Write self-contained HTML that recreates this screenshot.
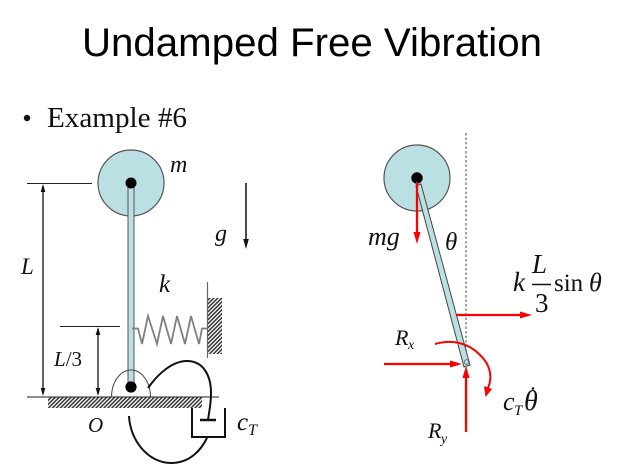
<!DOCTYPE html>
<html><head><meta charset="utf-8"><style>
html,body{margin:0;padding:0;background:#fff;width:624px;height:470px;overflow:hidden}
svg{display:block;filter:blur(0.35px)}
.i{font-family:"Liberation Serif",serif;font-style:italic;fill:#111}
.r{font-family:"Liberation Serif",serif;fill:#111}
</style></head><body>
<svg width="624" height="470" viewBox="0 0 624 470" xmlns="http://www.w3.org/2000/svg">
<defs>
<pattern id="h" width="2.800" height="2.800" patternUnits="userSpaceOnUse" patternTransform="rotate(45)"><rect width="2.800" height="2.800" fill="#fff"/><rect width="1.500" height="2.800" fill="#333"/></pattern>
</defs>
<rect width="624" height="470" fill="#fff"/>
<text x="312" y="56" text-anchor="middle" font-family="Liberation Sans, sans-serif" font-size="39.500" fill="#000" textLength="460" lengthAdjust="spacingAndGlyphs">Undamped Free Vibration</text>
<circle cx="27" cy="118" r="3.200" fill="#111"/>
<text x="47" y="127" class="r" font-size="28.500" textLength="140" lengthAdjust="spacingAndGlyphs">Example #6</text>

<!-- left diagram -->
<circle cx="131" cy="183" r="33" fill="#bbe0e4" stroke="#555" stroke-width="1.200"/>
<rect x="128" y="187" width="6" height="198" fill="#bbe0e4" stroke="#555" stroke-width="1"/>
<circle cx="131" cy="183" r="5.500" fill="#000"/>
<path d="M27 183.500H92M60 326.500H120M27 397H219" stroke="#222" stroke-width="1" fill="none"/>
<path d="M43 186V394M98 329V394" stroke="#111" stroke-width="1.300" fill="none"/>
<path d="M43 184l-2.300 8h4.600zM43 396l-2.300-8h4.600zM98 327l-2.300 8h4.600zM98 396l-2.300-8h4.600z" fill="#111"/>
<rect x="48" y="397.500" width="154" height="10.500" fill="url(#h)"/>
<path d="M111.500 397A19.500 27 0 0 1 150.500 397" fill="none" stroke="#444" stroke-width="1"/>
<circle cx="131" cy="387" r="5.600" fill="#000"/>
<!-- spring + wall -->
<path d="M132 328.500H138L142 344L148 316L157 344L163 316L171 344L177 316L185 344L191 316L199 344L202 328.500H208" fill="none" stroke="#808080" stroke-width="1.800"/>
<path d="M207.500 282V358" stroke="#666" stroke-width="1.200"/>
<rect x="208" y="298" width="14" height="56" fill="url(#h)"/>
<path d="M246 183V240" stroke="#111" stroke-width="1.500"/>
<path d="M246 249l-2.800-10h5.600z" fill="#111"/>
<!-- damper -->
<path d="M192 408V437H225V408" fill="none" stroke="#111" stroke-width="2"/>
<path d="M200 420H216" stroke="#111" stroke-width="2.500"/>
<path d="M148 388C158 374 172 361 187 361C203 361 211 375 211 393C211 405 209 412 208 420" fill="none" stroke="#111" stroke-width="2"/>
<path d="M129 416C130 440 148 463 171 463C190 463 201 450 207 438" fill="none" stroke="#111" stroke-width="2"/>
<text x="170" y="172" class="i" font-size="24">m</text>
<text x="215" y="241" class="i" font-size="24">g</text>
<text x="21" y="274" class="i" font-size="23">L</text>
<text x="159" y="292" class="i" font-size="25">k</text>
<text x="54" y="366" class="i" font-size="21">L<tspan font-style="normal">/3</tspan></text>
<text x="88" y="432" class="i" font-size="21">O</text>
<text x="237" y="430" class="i" font-size="25">c</text>
<text x="248" y="435" class="i" font-size="16">T</text>

<!-- right diagram -->
<path d="M466 133V368" stroke="#666" stroke-width="1.200" stroke-dasharray="2.500 2"/>
<circle cx="417" cy="178" r="33" fill="#bbe0e4" stroke="#555" stroke-width="1.200"/>
<path d="M416 186L421 184L470 365L464 367Z" fill="#bbe0e4" stroke="#444" stroke-width="1"/>
<circle cx="466.500" cy="362" r="2.300" fill="#bbe0e4" stroke="#555" stroke-width=".8"/>
<circle cx="417" cy="178" r="5.700" fill="#000"/>
<g stroke="#f00" stroke-width="2.300" fill="none">
<path d="M417 182V236M456 315H522M384 364H452M466 432V376"/>
<path d="M435 344C452 339 468 343 479 354C490 364 493 376 488 388" stroke-width="2"/>
</g>
<g fill="#f00">
<path d="M417 244l-3.500-12h7zM532 315l-12-3.500v7zM462 364l-12-3.500v7zM466 366l-3.500 12h7zM485.500 397l-1.500-11 8 3z"/>
</g>
<text x="368" y="245" class="i" font-size="26">mg</text>
<text x="445" y="250" class="i" font-size="25">θ</text>
<text x="513" y="291" class="i" font-size="27">k</text>
<text x="532" y="273" class="i" font-size="27">L</text>
<path d="M532 284.500H551" stroke="#111" stroke-width="1.400"/>
<text x="535" y="312" class="r" font-size="27">3</text>
<text x="554" y="291" class="r" font-size="25">sin</text>
<text x="589" y="291" class="i" font-size="26">θ</text>
<text x="395" y="345" class="i" font-size="22">R</text>
<text x="408" y="349" class="i" font-size="14">x</text>
<text x="428" y="438" class="i" font-size="22">R</text>
<text x="441" y="443" class="i" font-size="14">y</text>
<text x="503" y="410" class="i" font-size="26">c</text>
<text x="514" y="415" class="i" font-size="15">T</text>
<text x="524" y="410" class="i" font-size="28">θ</text>
<circle cx="533" cy="388.500" r="1.300" fill="#111"/>
</svg>
</body></html>
